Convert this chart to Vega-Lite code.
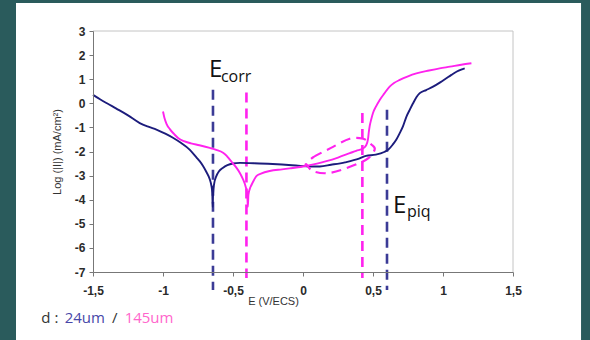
{
  "$schema": "https://vega.github.io/schema/vega-lite/v6.json",
  "width": 420,
  "height": 241,
  "autosize": "none",
  "padding": {"left": 93, "top": 31, "right": 77, "bottom": 68},
  "background": "#2a5b5c",
  "config": {
    "view": {"stroke": null},
    "axis": {
      "zindex": 1,
      "grid": false,
      "domainColor": "#777777",
      "tickColor": "#777777",
      "tickSize": 4,
      "labelOverlap": false,
      "labelFont": "Liberation Sans",
      "labelFontSize": 12,
      "labelFontWeight": "bold",
      "labelColor": "#2a2a2a",
      "titleFont": "Liberation Sans",
      "titleFontSize": 11,
      "titleFontWeight": "normal",
      "titleColor": "#333333"
    }
  },
  "resolve": {"scale": {"color": "independent", "size": "independent"}},
  "datasets": {
    "slide": [{"x1": -2.05, "x2": 1.986, "y1": 4.16, "y2": -10.1}],
    "frame": [
      {"x1": -1.5, "x2": 1.5, "y1": 3, "y2": 3},
      {"x1": 1.5, "x2": 1.5, "y1": -7, "y2": 3}
    ],
    "curves": [
      {"s": "24um", "E": -1.5, "L": 0.35},
      {"s": "24um", "E": -1.45, "L": 0.17},
      {"s": "24um", "E": -1.4, "L": 0.0},
      {"s": "24um", "E": -1.333, "L": -0.22},
      {"s": "24um", "E": -1.25, "L": -0.5},
      {"s": "24um", "E": -1.166, "L": -0.82},
      {"s": "24um", "E": -1.1, "L": -0.98},
      {"s": "24um", "E": -1.047, "L": -1.09},
      {"s": "24um", "E": -0.98, "L": -1.27},
      {"s": "24um", "E": -0.929, "L": -1.43},
      {"s": "24um", "E": -0.87, "L": -1.65},
      {"s": "24um", "E": -0.81, "L": -1.92},
      {"s": "24um", "E": -0.76, "L": -2.25},
      {"s": "24um", "E": -0.738, "L": -2.4},
      {"s": "24um", "E": -0.714, "L": -2.6},
      {"s": "24um", "E": -0.69, "L": -2.85},
      {"s": "24um", "E": -0.666, "L": -3.15},
      {"s": "24um", "E": -0.655, "L": -3.4},
      {"s": "24um", "E": -0.648, "L": -3.7},
      {"s": "24um", "E": -0.645, "L": -4.3},
      {"s": "24um", "E": -0.642, "L": -3.7},
      {"s": "24um", "E": -0.635, "L": -3.35},
      {"s": "24um", "E": -0.619, "L": -3.02},
      {"s": "24um", "E": -0.6, "L": -2.82},
      {"s": "24um", "E": -0.571, "L": -2.67},
      {"s": "24um", "E": -0.54, "L": -2.57},
      {"s": "24um", "E": -0.5, "L": -2.5},
      {"s": "24um", "E": -0.45, "L": -2.47},
      {"s": "24um", "E": -0.35, "L": -2.49},
      {"s": "24um", "E": -0.25, "L": -2.51},
      {"s": "24um", "E": -0.15, "L": -2.54},
      {"s": "24um", "E": -0.05, "L": -2.58},
      {"s": "24um", "E": 0.05, "L": -2.62},
      {"s": "24um", "E": 0.12, "L": -2.62},
      {"s": "24um", "E": 0.2, "L": -2.55},
      {"s": "24um", "E": 0.3, "L": -2.45},
      {"s": "24um", "E": 0.4, "L": -2.3},
      {"s": "24um", "E": 0.45, "L": -2.18},
      {"s": "24um", "E": 0.52, "L": -2.13},
      {"s": "24um", "E": 0.58, "L": -2.02},
      {"s": "24um", "E": 0.61, "L": -1.92},
      {"s": "24um", "E": 0.64, "L": -1.72},
      {"s": "24um", "E": 0.667, "L": -1.5},
      {"s": "24um", "E": 0.69, "L": -1.25},
      {"s": "24um", "E": 0.714, "L": -0.96},
      {"s": "24um", "E": 0.739, "L": -0.55},
      {"s": "24um", "E": 0.76, "L": -0.3},
      {"s": "24um", "E": 0.786, "L": 0.0},
      {"s": "24um", "E": 0.81, "L": 0.25},
      {"s": "24um", "E": 0.834, "L": 0.42},
      {"s": "24um", "E": 0.88, "L": 0.55},
      {"s": "24um", "E": 0.929, "L": 0.69},
      {"s": "24um", "E": 0.98, "L": 0.87},
      {"s": "24um", "E": 1.024, "L": 1.04},
      {"s": "24um", "E": 1.06, "L": 1.18},
      {"s": "24um", "E": 1.096, "L": 1.31},
      {"s": "24um", "E": 1.13, "L": 1.4},
      {"s": "24um", "E": 1.155, "L": 1.45},
      {"s": "145um", "E": -1.0, "L": -0.34},
      {"s": "145um", "E": -0.99, "L": -0.6},
      {"s": "145um", "E": -0.975, "L": -0.85},
      {"s": "145um", "E": -0.95, "L": -1.08},
      {"s": "145um", "E": -0.92, "L": -1.28},
      {"s": "145um", "E": -0.89, "L": -1.45},
      {"s": "145um", "E": -0.85, "L": -1.57},
      {"s": "145um", "E": -0.8, "L": -1.66},
      {"s": "145um", "E": -0.74, "L": -1.74},
      {"s": "145um", "E": -0.666, "L": -1.85},
      {"s": "145um", "E": -0.62, "L": -1.93},
      {"s": "145um", "E": -0.571, "L": -2.05},
      {"s": "145um", "E": -0.545, "L": -2.18},
      {"s": "145um", "E": -0.524, "L": -2.33},
      {"s": "145um", "E": -0.5, "L": -2.5},
      {"s": "145um", "E": -0.476, "L": -2.67},
      {"s": "145um", "E": -0.45, "L": -2.9},
      {"s": "145um", "E": -0.429, "L": -3.15},
      {"s": "145um", "E": -0.41, "L": -3.45},
      {"s": "145um", "E": -0.398, "L": -3.8},
      {"s": "145um", "E": -0.394, "L": -4.3},
      {"s": "145um", "E": -0.39, "L": -3.8},
      {"s": "145um", "E": -0.38, "L": -3.55},
      {"s": "145um", "E": -0.369, "L": -3.4},
      {"s": "145um", "E": -0.35, "L": -3.18},
      {"s": "145um", "E": -0.333, "L": -3.02},
      {"s": "145um", "E": -0.3, "L": -2.92},
      {"s": "145um", "E": -0.238, "L": -2.81},
      {"s": "145um", "E": -0.15, "L": -2.74},
      {"s": "145um", "E": -0.095, "L": -2.7},
      {"s": "145um", "E": 0.0, "L": -2.62},
      {"s": "145um", "E": 0.1, "L": -2.5},
      {"s": "145um", "E": 0.167, "L": -2.4},
      {"s": "145um", "E": 0.25, "L": -2.25},
      {"s": "145um", "E": 0.334, "L": -2.07},
      {"s": "145um", "E": 0.38, "L": -1.97},
      {"s": "145um", "E": 0.429, "L": -1.87},
      {"s": "145um", "E": 0.45, "L": -1.75},
      {"s": "145um", "E": 0.464, "L": -1.5},
      {"s": "145um", "E": 0.47, "L": -1.2},
      {"s": "145um", "E": 0.476, "L": -0.96},
      {"s": "145um", "E": 0.488, "L": -0.65},
      {"s": "145um", "E": 0.5, "L": -0.4},
      {"s": "145um", "E": 0.52, "L": -0.15},
      {"s": "145um", "E": 0.548, "L": 0.14},
      {"s": "145um", "E": 0.58, "L": 0.4},
      {"s": "145um", "E": 0.619, "L": 0.69},
      {"s": "145um", "E": 0.65, "L": 0.84},
      {"s": "145um", "E": 0.691, "L": 0.97},
      {"s": "145um", "E": 0.75, "L": 1.12},
      {"s": "145um", "E": 0.81, "L": 1.24},
      {"s": "145um", "E": 0.9, "L": 1.36},
      {"s": "145um", "E": 0.976, "L": 1.45},
      {"s": "145um", "E": 1.05, "L": 1.52},
      {"s": "145um", "E": 1.13, "L": 1.6},
      {"s": "145um", "E": 1.203, "L": 1.66}
    ],
    "vlines": [
      {"s": "24um", "E": -0.643, "top": 0.56, "bottom": -7.75},
      {"s": "145um", "E": -0.404, "top": 0.45, "bottom": -7.25},
      {"s": "145um", "E": 0.424, "top": -0.4, "bottom": -7.25},
      {"s": "24um", "E": 0.6, "top": -0.27, "bottom": -7.75}
    ],
    "ellipse": [
      {"i": 0, "E": 0.024, "L": -2.54},
      {"i": 1, "E": 0.07, "L": -2.25},
      {"i": 2, "E": 0.2, "L": -1.85},
      {"i": 3, "E": 0.334, "L": -1.47},
      {"i": 4, "E": 0.43, "L": -1.47},
      {"i": 5, "E": 0.488, "L": -1.71},
      {"i": 6, "E": 0.512, "L": -1.92},
      {"i": 7, "E": 0.453, "L": -2.33},
      {"i": 8, "E": 0.286, "L": -2.74},
      {"i": 9, "E": 0.167, "L": -2.9},
      {"i": 10, "E": 0.071, "L": -2.81},
      {"i": 11, "E": 0.024, "L": -2.54}
    ],
    "labels": [
      {"t": "E", "E": -0.671, "L": 1.09, "size": "big"},
      {"t": "corr", "E": -0.586, "L": 0.88, "size": "sub"},
      {"t": "E", "E": 0.643, "L": -4.55, "size": "big"},
      {"t": "piq", "E": 0.743, "L": -4.72, "size": "sub"}
    ],
    "legend": [
      {"t": "d :", "E": -1.869, "L": -9.12, "c": "k"},
      {"t": "24um", "E": -1.702, "L": -9.12, "c": "24um"},
      {"t": "/", "E": -1.365, "L": -9.12, "c": "k"},
      {"t": "145um", "E": -1.274, "L": -9.12, "c": "145um"}
    ]
  },
  "layer": [
    {
      "data": {"name": "slide"},
      "mark": {"type": "rect", "color": "#ffffff"},
      "encoding": {
        "x": {
          "field": "x1", "type": "quantitative",
          "scale": {"domain": [-1.5, 1.5], "nice": false, "zero": false},
          "axis": {
            "zindex": 2,
            "values": [-1.5, -1, -0.5, 0, 0.5, 1, 1.5],
            "tickCount": 20,
            "labelExpr": "replace('' + datum.value, '.', ',')",
            "title": "E (V/ECS)",
            "titleX": 180,
            "titleY": 32,
            "titleBaseline": "alphabetic",
            "labelPadding": 9,
            "labelFlush": false,
            "labelOverlap": false
          }
        },
        "x2": {"field": "x2"},
        "y": {
          "field": "y1", "type": "quantitative",
          "scale": {"domain": [-7, 3], "nice": false, "zero": false},
          "axis": {
            "zindex": 2,
            "values": [-7, -6, -5, -4, -3, -2, -1, 0, 1, 2, 3],
            "tickCount": 20,
            "labelExpr": "'' + datum.value",
            "title": "Log (|I|) (mA/cm²)",
            "titlePadding": 12,
            "labelPadding": 4,
            "labelFlush": false,
            "labelOverlap": false
          }
        },
        "y2": {"field": "y2"}
      }
    },
    {
      "data": {"name": "frame"},
      "mark": {"type": "rule", "color": "#c4c4c4", "strokeWidth": 1},
      "encoding": {
        "x": {"field": "x1", "type": "quantitative"},
        "x2": {"field": "x2"},
        "y": {"field": "y1", "type": "quantitative"},
        "y2": {"field": "y2"}
      }
    },
    {
      "data": {"name": "vlines"},
      "mark": {"type": "rule", "strokeWidth": 2.6, "strokeDash": [10, 6]},
      "encoding": {
        "x": {"field": "E", "type": "quantitative"},
        "y": {"field": "top", "type": "quantitative"},
        "y2": {"field": "bottom"},
        "color": {"field": "s", "type": "nominal", "scale": {"domain": ["24um", "145um"], "range": ["#3b3b96", "#ff22ee"]}, "legend": null}
      }
    },
    {
      "data": {"name": "curves"},
      "mark": {"type": "line", "strokeWidth": 1.9, "interpolate": "monotone"},
      "encoding": {
        "x": {"field": "E", "type": "quantitative"},
        "y": {"field": "L", "type": "quantitative"},
        "color": {"field": "s", "type": "nominal", "scale": {"domain": ["24um", "145um"], "range": ["#1c1c7c", "#ff22ee"]}, "legend": null}
      }
    },
    {
      "data": {"name": "ellipse"},
      "mark": {"type": "line", "color": "#ff22ee", "strokeWidth": 2.2, "strokeDash": [10, 6], "interpolate": "cardinal-closed"},
      "encoding": {
        "x": {"field": "E", "type": "quantitative"},
        "y": {"field": "L", "type": "quantitative"},
        "order": {"field": "i", "type": "quantitative"}
      }
    },
    {
      "data": {"name": "labels"},
      "mark": {"type": "text", "align": "left", "baseline": "alphabetic", "font": "Open Sans", "color": "#111111"},
      "encoding": {
        "x": {"field": "E", "type": "quantitative"},
        "y": {"field": "L", "type": "quantitative"},
        "text": {"field": "t"},
        "size": {"field": "size", "type": "nominal", "scale": {"domain": ["big", "sub"], "range": [24, 16]}, "legend": null}
      }
    },
    {
      "data": {"name": "legend"},
      "mark": {"type": "text", "align": "left", "baseline": "alphabetic", "font": "Open Sans", "fontSize": 15},
      "encoding": {
        "x": {"field": "E", "type": "quantitative"},
        "y": {"field": "L", "type": "quantitative"},
        "text": {"field": "t"},
        "color": {"field": "c", "type": "nominal", "scale": {"domain": ["k", "24um", "145um"], "range": ["#333333", "#4747a8", "#ff66cc"]}, "legend": null}
      }
    }
  ]
}
